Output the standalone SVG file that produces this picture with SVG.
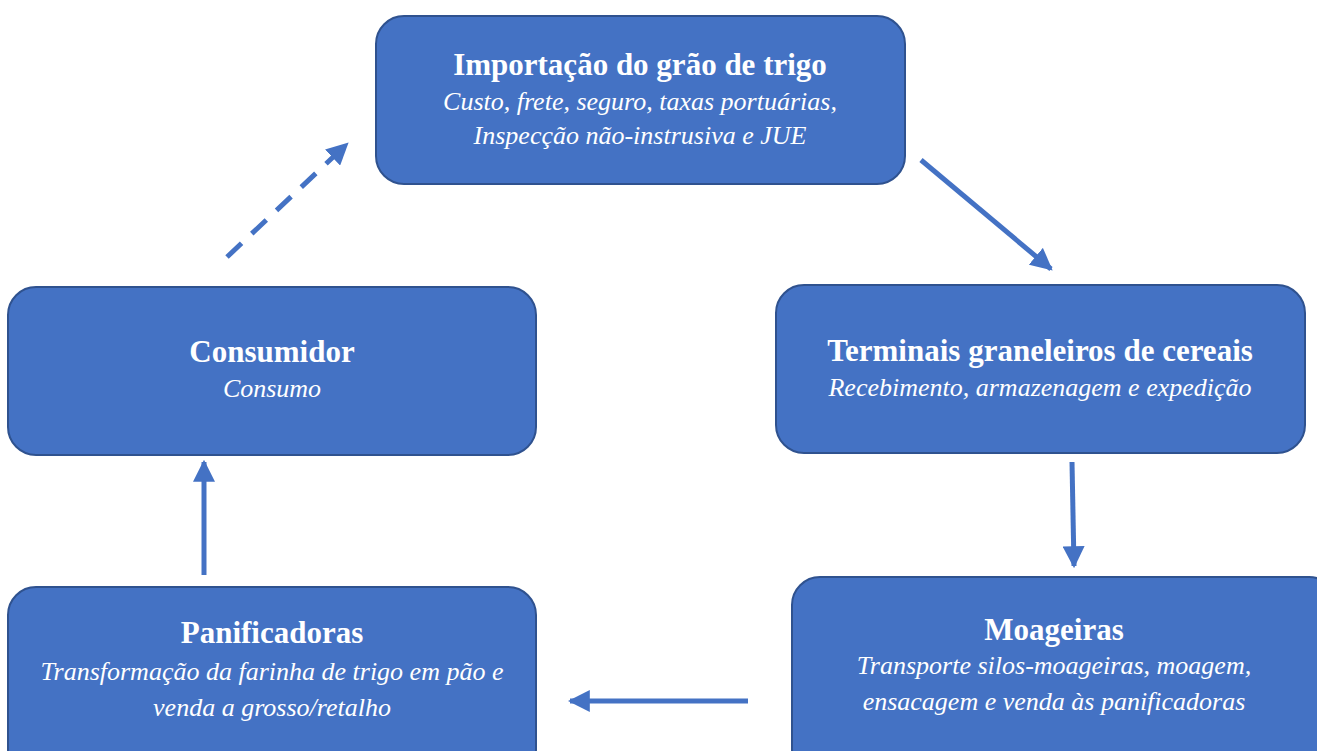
<svg xmlns="http://www.w3.org/2000/svg" width="1317" height="751" viewBox="0 0 1317 751">
<style>
.box{fill:#4472C4;stroke:#2F528F;stroke-width:2}
.t{font-family:"Liberation Serif","DejaVu Serif",serif;fill:#ffffff;text-anchor:middle}
.h{font-weight:bold;font-size:31px}
.i{font-style:italic;font-size:26px}
.c{stroke:#4472C4;stroke-width:5;fill:none}
</style>
<defs>
<marker id="ah" viewBox="0 0 10 10" refX="9" refY="5" markerWidth="4.4" markerHeight="4.4" orient="auto" markerUnits="strokeWidth">
<path d="M0,0 L10,5 L0,10 z" fill="#4472C4"/>
</marker>
</defs>
<rect width="1317" height="751" fill="#ffffff"/>
<g id="importacao">
<rect class="box" x="376" y="16" width="529" height="168" rx="28"/>
<text class="t h" x="640" y="75">Importação do grão de trigo</text>
<text class="t i" x="640" y="110">Custo, frete, seguro, taxas portuárias,</text>
<text class="t i" x="640" y="144">Inspecção não-instrusiva e JUE</text>
</g>
<g id="consumidor">
<rect class="box" x="8" y="287" width="528" height="168" rx="28"/>
<text class="t h" x="272" y="362">Consumidor</text>
<text class="t i" x="272" y="397">Consumo</text>
</g>
<g id="terminais">
<rect class="box" x="776" y="285" width="529" height="168" rx="28"/>
<text class="t h" x="1040" y="361">Terminais graneleiros de cereais</text>
<text class="t i" x="1040" y="396">Recebimento, armazenagem e expedição</text>
</g>
<g id="moageiras">
<rect class="box" x="792" y="577" width="545" height="200" rx="28"/>
<text class="t h" x="1054" y="640">Moageiras</text>
<text class="t i" x="1054" y="674">Transporte silos-moageiras, moagem,</text>
<text class="t i" x="1054" y="710">ensacagem e venda às panificadoras</text>
</g>
<g id="panificadoras">
<rect class="box" x="8" y="587" width="528" height="190" rx="28"/>
<text class="t h" x="272" y="643">Panificadoras</text>
<text class="t i" x="272" y="680">Transformação da farinha de trigo em pão e</text>
<text class="t i" x="272" y="716">venda a grosso/retalho</text>
</g>
<g id="connectors">
<path class="c" d="M227,257 L347,144" stroke-dasharray="20,14" marker-end="url(#ah)"/>
<path class="c" d="M921,160 L1051,269" marker-end="url(#ah)"/>
<path class="c" d="M1072,462 L1074,566" marker-end="url(#ah)"/>
<path class="c" d="M748,701 L570,701" marker-end="url(#ah)"/>
<path class="c" d="M204,575 L204,462" marker-end="url(#ah)"/>
</g>
</svg>
